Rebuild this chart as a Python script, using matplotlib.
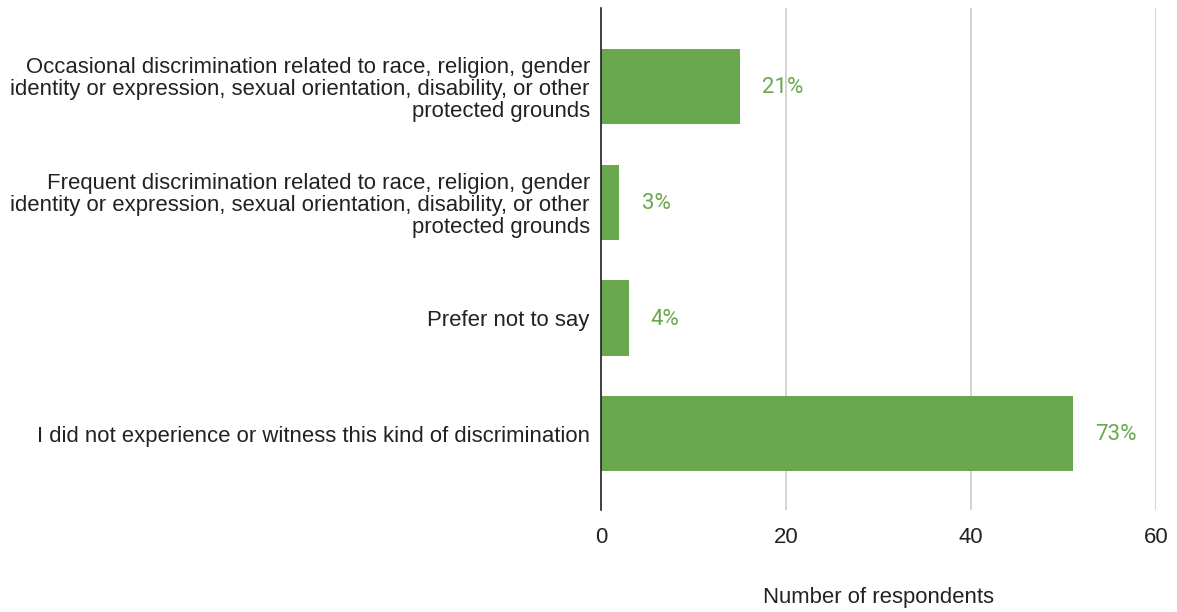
import matplotlib
matplotlib.use("Agg")
import matplotlib.pyplot as plt

plt.rcParams["font.family"] = ["Liberation Sans", "DejaVu Sans"]

categories = [
    "Occasional discrimination related to race, religion, gender\n"
    "identity or expression, sexual orientation, disability, or other\n"
    "protected grounds",
    "Frequent discrimination related to race, religion, gender\n"
    "identity or expression, sexual orientation, disability, or other\n"
    "protected grounds",
    "Prefer not to say",
    "I did not experience or witness this kind of discrimination",
]
counts = [15, 2, 3, 51]
pct_labels = ["21%", "3%", "4%", "73%"]

BAR = "#6aa84f"
LABEL = "#6aa84f"
TEXT = "#222222"

fig = plt.figure(figsize=(11.77, 6.12), dpi=100)
ax = fig.add_axes([0.5106, 0.1667, 0.9822 - 0.5106, 0.987 - 0.1667])

pos = list(range(len(categories)))
ax.barh(pos, counts, height=0.65, color=BAR, zorder=3)
for y, v, lab in zip(pos, counts, pct_labels):
    ax.text(v + 2.4, y + 0.01, lab, va="center", ha="left", fontsize=16,
            color=LABEL, family=["Roboto", "DejaVu Sans"])

ax.set_xlim(0, 60)
ax.set_ylim(3.66, -0.68)
ax.set_xticks([0, 20, 40, 60])
ax.set_yticks(pos)
ax.set_yticklabels(categories, fontsize=15.9, color=TEXT, linespacing=1.06)
ax.tick_params(axis="y", length=0, pad=8)
ax.tick_params(axis="x", length=0, pad=12, labelsize=15.9, labelcolor=TEXT)
ax.grid(axis="x", color="#cccccc", linewidth=1.2, zorder=0)
for s in ("top", "right", "bottom"):
    ax.spines[s].set_visible(False)
ax.spines["left"].set_color("#222222")
ax.spines["left"].set_linewidth(1.2)
ax.spines["left"].set_zorder(4)
ax.set_xlabel("Number of respondents", fontsize=15.9, color=TEXT, labelpad=28)

fig.savefig("out.png", dpi=100, facecolor="white")
